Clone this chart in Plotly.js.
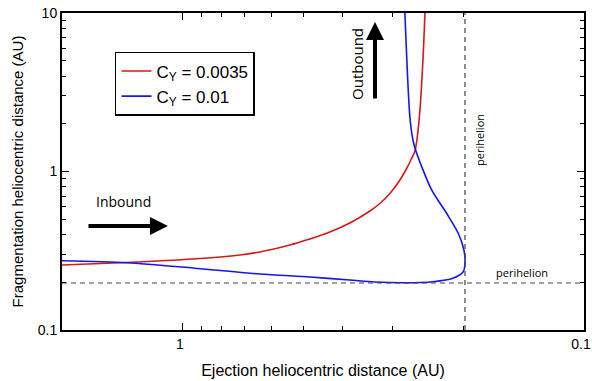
<!DOCTYPE html>
<html>
<head>
<meta charset="utf-8">
<script src="https://cdn.plot.ly/plotly-3.0.1.min.js"></script>
<style>html,body{margin:0;padding:0;background:#fff;}#chart{width:592px;height:381px;}</style>
</head>
<body>
<div id="chart"></div>
<script>
// Ejection distance (x) vs fragmentation distance (y), AU
const redLabel = 'C<sub>Y</sub> = 0.0035';
const redX = [2.0, 1.379, 0.944, 0.7208, 0.643, 0.541, 0.4825, 0.43, 0.3833, 0.3417, 0.3226, 0.3046, 0.2876, 0.278, 0.27, 0.2638, 0.2609, 0.2564, 0.252, 0.2491];
const redY = [0.2572, 0.2666, 0.2805, 0.2973, 0.3106, 0.3438, 0.3752, 0.4153, 0.4732, 0.5633, 0.6283, 0.7266, 0.884, 1.022, 1.182, 1.347, 1.58, 2.443, 5.05, 10];

const blueLabel = 'C<sub>Y</sub> = 0.01';
const blueX = [2.0, 1.379, 0.944, 0.643, 0.4825, 0.3833, 0.332, 0.2795, 0.2379, 0.2122, 0.2, 0.198, 0.1992, 0.2058, 0.22, 0.2397, 0.2624, 0.2669, 0.2716, 0.2795];
const blueY = [0.2736, 0.2658, 0.2462, 0.2256, 0.216, 0.2068, 0.2009, 0.1985, 0.2017, 0.212, 0.2333, 0.262, 0.3197, 0.4075, 0.5449, 0.7645, 1.347, 1.58, 2.207, 10];

const perihelion = 0.198;
const xRange = [2.0, 0.1];
const yRange = [0.1, 10];
const majorTicks = [0.1, 1, 10];
const majorLabels = ['0.1', '1', '10'];
const minorTicks = [0.2, 0.3, 0.4, 0.5, 0.6, 0.7, 0.8, 0.9, 2, 3, 4, 5, 6, 7, 8, 9];

const traces = [
  {x: redX, y: redY, name: redLabel, mode: 'lines', line: {color: 'rgb(214,24,24)', width: 1.6, shape: 'spline', smoothing: 0.8}},
  {x: blueX, y: blueY, name: blueLabel, mode: 'lines', line: {color: 'rgb(20,20,245)', width: 1.6, shape: 'spline', smoothing: 0.8}},
  {x: [perihelion, perihelion], y: yRange, mode: 'lines', showlegend: false, hoverinfo: 'skip', line: {color: '#444', width: 1.2, dash: '5px,4px'}},
  {x: xRange, y: [perihelion, perihelion], mode: 'lines', showlegend: false, hoverinfo: 'skip', line: {color: '#444', width: 1.2, dash: '5px,4px'}}
];

const axisCommon = {
  type: 'log', showgrid: false, zeroline: false,
  showline: true, linecolor: '#000', linewidth: 2, mirror: 'ticks',
  ticks: 'inside', ticklen: 7, tickwidth: 1, tickcolor: '#000',
  tickmode: 'array', tickvals: majorTicks, ticktext: majorLabels,
  ticklabeloverflow: 'allow',
  tickfont: {family: 'Liberation Sans, Arial, sans-serif', size: 14, color: '#000'},
  minor: {tickmode: 'array', tickvals: minorTicks, ticks: 'inside', ticklen: 4, tickwidth: 1, tickcolor: '#000'}
};

const annFont = {family: 'Open Sans, sans-serif', size: 14, color: '#000'};

const layout = {
  width: 592, height: 381,
  margin: {l: 62, r: 8, t: 13, b: 51},
  paper_bgcolor: '#fff', plot_bgcolor: '#fff',
  font: {family: 'Liberation Sans, Arial, sans-serif', color: '#000'},
  showlegend: true,
  legend: {x: 0.1015, y: 0.877, xanchor: 'left', yanchor: 'top', bgcolor: '#fff', bordercolor: '#000', borderwidth: 1.5,
           font: {family: 'Liberation Sans, Arial, sans-serif', size: 17, color: '#000'}, tracegroupgap: 0, itemwidth: 30},
  xaxis: Object.assign({}, axisCommon, {
    range: [Math.log10(xRange[0]), Math.log10(xRange[1])],
    ticklabelshift: 3,
    title: {text: 'Ejection heliocentric distance (AU)', font: {size: 16}, standoff: 14}
  }),
  yaxis: Object.assign({}, axisCommon, {
    range: [Math.log10(yRange[0]), Math.log10(yRange[1])],
    title: {text: 'Fragmentation heliocentric distance (AU)', font: {size: 15}, standoff: 10}
  }),
  annotations: [
    {xref: 'paper', yref: 'paper', x: 0.1169, y: 0.404, xanchor: 'center', yanchor: 'middle', text: 'Inbound', showarrow: false, font: annFont},
    {xref: 'paper', yref: 'paper', x: 0.203, y: 0.328, text: '', showarrow: true, axref: 'pixel', ayref: 'pixel',
     ax: -81, ay: 0, arrowhead: 2, arrowsize: 0.9, arrowwidth: 4, arrowcolor: '#000'},
    {xref: 'paper', yref: 'paper', x: 0.565, y: 0.839, xanchor: 'center', yanchor: 'middle', text: 'Outbound', textangle: -90, showarrow: false,
     font: {family: 'Open Sans, sans-serif', size: 15, color: '#000'}},
    {xref: 'paper', yref: 'paper', x: 0.5996, y: 0.9716, text: '', showarrow: true, axref: 'pixel', ayref: 'pixel',
     ax: 0, ay: 78, arrowhead: 2, arrowsize: 0.9, arrowwidth: 4, arrowcolor: '#000'},
    {xref: 'paper', yref: 'paper', x: 0.8008, y: 0.5994, xanchor: 'center', yanchor: 'middle', text: 'perihelion', textangle: -90, showarrow: false,
     font: {family: 'Open Sans, sans-serif', size: 11, color: '#000'}},
    {xref: 'paper', yref: 'paper', x: 0.881, y: 0.18, xanchor: 'center', yanchor: 'middle', text: 'perihelion', showarrow: false,
     font: {family: 'Open Sans, sans-serif', size: 11, color: '#000'}}
  ]
};

Plotly.newPlot('chart', traces, layout, {staticPlot: true, displayModeBar: false});
</script>
</body>
</html>
